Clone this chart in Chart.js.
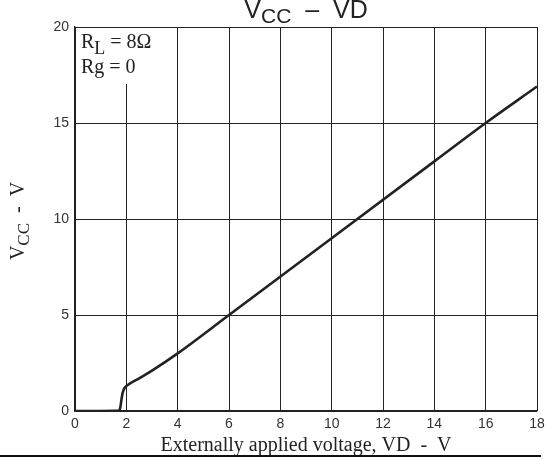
<!DOCTYPE html>
<html>
<head>
<meta charset="utf-8">
<script src="https://cdn.jsdelivr.net/npm/chart.js@4/dist/chart.umd.min.js"></script>
<style>
  html, body { margin: 0; padding: 0; background: #fff; }
  #wrap { width: 546px; height: 459px; }
</style>
</head>
<body>
<div id="wrap"><canvas id="chart" width="546" height="459"></canvas></div>
<script>
// VD (x) vs VCC (y)
const vdValues  = [0, 1.0, 1.7, 1.76, 1.8, 1.84, 1.88, 1.93, 2.0, 2.5, 3.0, 4.0, 6.0, 10.0, 14.0, 16.0, 18.0];
const vccValues = [0, 0, 0.02, 0.15, 0.5, 0.85, 1.05, 1.2, 1.3, 1.7, 2.1, 3.0, 5.0, 9.0, 13.0, 15.0, 16.9];
const xTicks = [0, 2, 4, 6, 8, 10, 12, 14, 16, 18];
const yTicks = [0, 5, 10, 15, 20];

const points = vdValues.map((v, i) => ({ x: v, y: vccValues[i] }));

// draw text with a subscript piece: parts = [[text, isSub], ...]
function drawParts(ctx, parts, x, y, font, subFont, subDrop) {
    let cx = x;
    for (const [txt, sub] of parts) {
        ctx.font = sub ? subFont : font;
        ctx.fillText(txt, cx, sub ? y + subDrop : y);
        cx += ctx.measureText(txt).width;
    }
    return cx;
}
function partsWidth(ctx, parts, font, subFont) {
    let w = 0;
    for (const [txt, sub] of parts) {
        ctx.font = sub ? subFont : font;
        w += ctx.measureText(txt).width;
    }
    return w;
}

const serif = '"Liberation Serif", "Times New Roman", serif';
const sans = '"Liberation Sans", Arial, sans-serif';

const extras = {
    id: 'extras',
    beforeDatasetsDraw(chart) {
        const ctx = chart.ctx;
        const a = chart.chartArea;
        // white box behind the RL / Rg note
        ctx.save();
        ctx.fillStyle = '#fff';
        ctx.fillRect(a.left + 1, a.top + 1, 80, 56);
        ctx.fillStyle = '#222';
        ctx.textBaseline = 'alphabetic';
        drawParts(ctx, [['R', false], ['L', true], [' = 8Ω', false]], a.left + 6, a.top + 21,
            '20px ' + serif, '18px ' + serif, 6);
        drawParts(ctx, [['Rg = 0', false]], a.left + 6, a.top + 46, '20px ' + serif, '20px ' + serif, 0);
        ctx.restore();
    },
    afterDraw(chart) {
        const ctx = chart.ctx;
        ctx.save();
        ctx.fillStyle = '#222';
        ctx.textBaseline = 'alphabetic';
        // title
        const tf = '25px ' + sans;
        const tfs = '21px ' + sans;
        const tParts = [['V', false], ['CC', true], ['  –  VD', false]];
        const tw = partsWidth(ctx, tParts, tf, tfs);
        drawParts(ctx, tParts, 306 - tw / 2, 18, tf, tfs, 5);
        // x axis title
        ctx.font = '20px ' + serif;
        ctx.textAlign = 'center';
        ctx.fillText('Externally applied voltage, VD  -  V', 306, 451);
        // y axis title, rotated
        ctx.save();
        ctx.translate(24, 221);
        ctx.rotate(-Math.PI / 2);
        ctx.textAlign = 'left';
        const yf = '20px ' + serif;
        const yfs = '17px ' + serif;
        const yParts = [['V', false], ['CC', true], ['  -  V', false]];
        const yw = partsWidth(ctx, yParts, yf, yfs);
        drawParts(ctx, yParts, -yw / 2, 0, yf, yfs, 5);
        ctx.restore();
        // rule along the bottom of the figure
        ctx.fillStyle = '#111';
        ctx.fillRect(0, 455, 541, 2);
        ctx.restore();
    }
};

new Chart(document.getElementById('chart'), {
    type: 'line',
    data: {
        datasets: [{
            data: points,
            borderColor: '#222',
            borderWidth: 2.6,
            pointRadius: 0,
            fill: false,
            tension: 0.3,
            cubicInterpolationMode: 'monotone'
        }]
    },
    options: {
        responsive: false,
        animation: false,
        events: [],
        layout: { padding: { left: 0, right: 9, top: 27, bottom: 0 } },
        plugins: { legend: { display: false }, title: { display: false }, tooltip: { enabled: false } },
        scales: {
            x: {
                type: 'linear',
                min: 0, max: 18,
                afterBuildTicks: s => { s.ticks = xTicks.map(v => ({ value: v })); },
                afterFit: s => { s.height = 48; s.paddingLeft = 0; s.paddingRight = 0; },
                grid: { color: '#222', lineWidth: 1, drawTicks: false },
                border: { color: '#222', width: 1.3 },
                ticks: {
                    padding: 5,
                    color: '#333',
                    font: { family: sans, size: 14 },
                    maxRotation: 0
                }
            },
            y: {
                min: 0, max: 20,
                afterBuildTicks: s => { s.ticks = yTicks.map(v => ({ value: v })); },
                afterFit: s => { s.width = 75; s.paddingTop = 0; s.paddingBottom = 0; },
                grid: { color: '#222', lineWidth: 1, drawTicks: false },
                border: { color: '#222', width: 1.3 },
                ticks: {
                    padding: 6,
                    color: '#333',
                    font: { family: sans, size: 14 }
                }
            }
        }
    },
    plugins: [extras]
});
</script>
</body>
</html>
